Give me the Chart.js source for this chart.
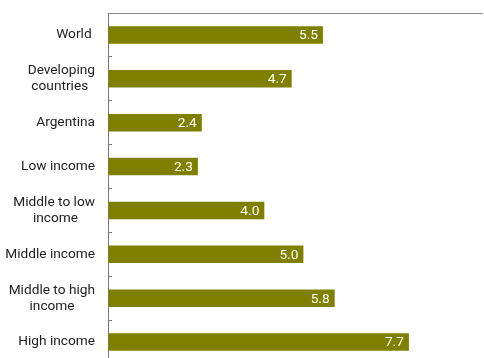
<!DOCTYPE html>
<html>
<head>
<meta charset="utf-8">
<script src="https://cdn.jsdelivr.net/npm/chart.js@4/dist/chart.umd.min.js"></script>
<style>
  html, body { margin: 0; padding: 0; overflow: hidden; background: #fff; }
  #wrap { position: absolute; left: 0; top: 0; width: 484px; height: 364px; }
</style>
</head>
<body>
<div id="wrap"><canvas id="c"></canvas></div>
<script>
const categories = ["World", "Developing countries", "Argentina", "Low income", "Middle to low income", "Middle income", "Middle to high income", "High income"];
const values = [5.5, 4.7, 2.4, 2.3, 4.0, 5.0, 5.8, 7.7];
const tickLabels = [
  "World ",
  ["Developing", "countries  "],
  "Argentina",
  "Low income",
  ["Middle to low", "income     "],
  "Middle income",
  ["Middle to high", "income      "],
  "High income"
];

const valueLabels = {
  id: 'valueLabels',
  afterDatasetsDraw(chart) {
    const ctx = chart.ctx;
    const meta = chart.getDatasetMeta(0);
    ctx.save();
    ctx.font = '13.7px Roboto, "Open Sans", sans-serif';
    ctx.fillStyle = '#ffffff';
    ctx.textAlign = 'right';
    ctx.textBaseline = 'middle';
    meta.data.forEach((bar, i) => {
      ctx.fillText(values[i].toFixed(1), bar.x - 5, bar.y + 1);
    });
    ctx.restore();
  }
};

new Chart(document.getElementById('c'), {
  type: 'bar',
  data: {
    labels: tickLabels,
    datasets: [{
      data: values,
      backgroundColor: '#808000',
      borderWidth: 0,
      categoryPercentage: 1.0,
      barPercentage: 0.4
    }]
  },
  options: {
    indexAxis: 'y',
    responsive: true,
    maintainAspectRatio: false,
    animation: false,
    layout: { padding: { top: 13, right: 2, left: 0, bottom: 0 } },
    plugins: { legend: { display: false }, tooltip: { enabled: false } },
    scales: {
      x: {
        position: 'top',
        min: 0,
        max: 9.57,
        afterFit(scale) { scale.height = 0; scale.paddingLeft = 0; scale.paddingRight = 0; },
        ticks: { display: false },
        grid: { display: true, drawOnChartArea: false, drawTicks: false },
        border: { display: true, color: '#8a8a8a', width: 1 }
      },
      y: {
        position: 'left',
        afterFit(scale) { scale.width = 108; scale.paddingTop = 0; scale.paddingBottom = 0; },
        ticks: {
          color: '#222',
          padding: 17,
          font: { family: 'Roboto', size: 13.7, lineHeight: 1.17 }
        },
        grid: { display: true, drawOnChartArea: false, drawTicks: true, tickLength: -4, color: '#777', offset: true },
        border: { display: true, color: '#777', width: 1 }
      }
    }
  },
  plugins: [valueLabels]
});
</script>
</body>
</html>
